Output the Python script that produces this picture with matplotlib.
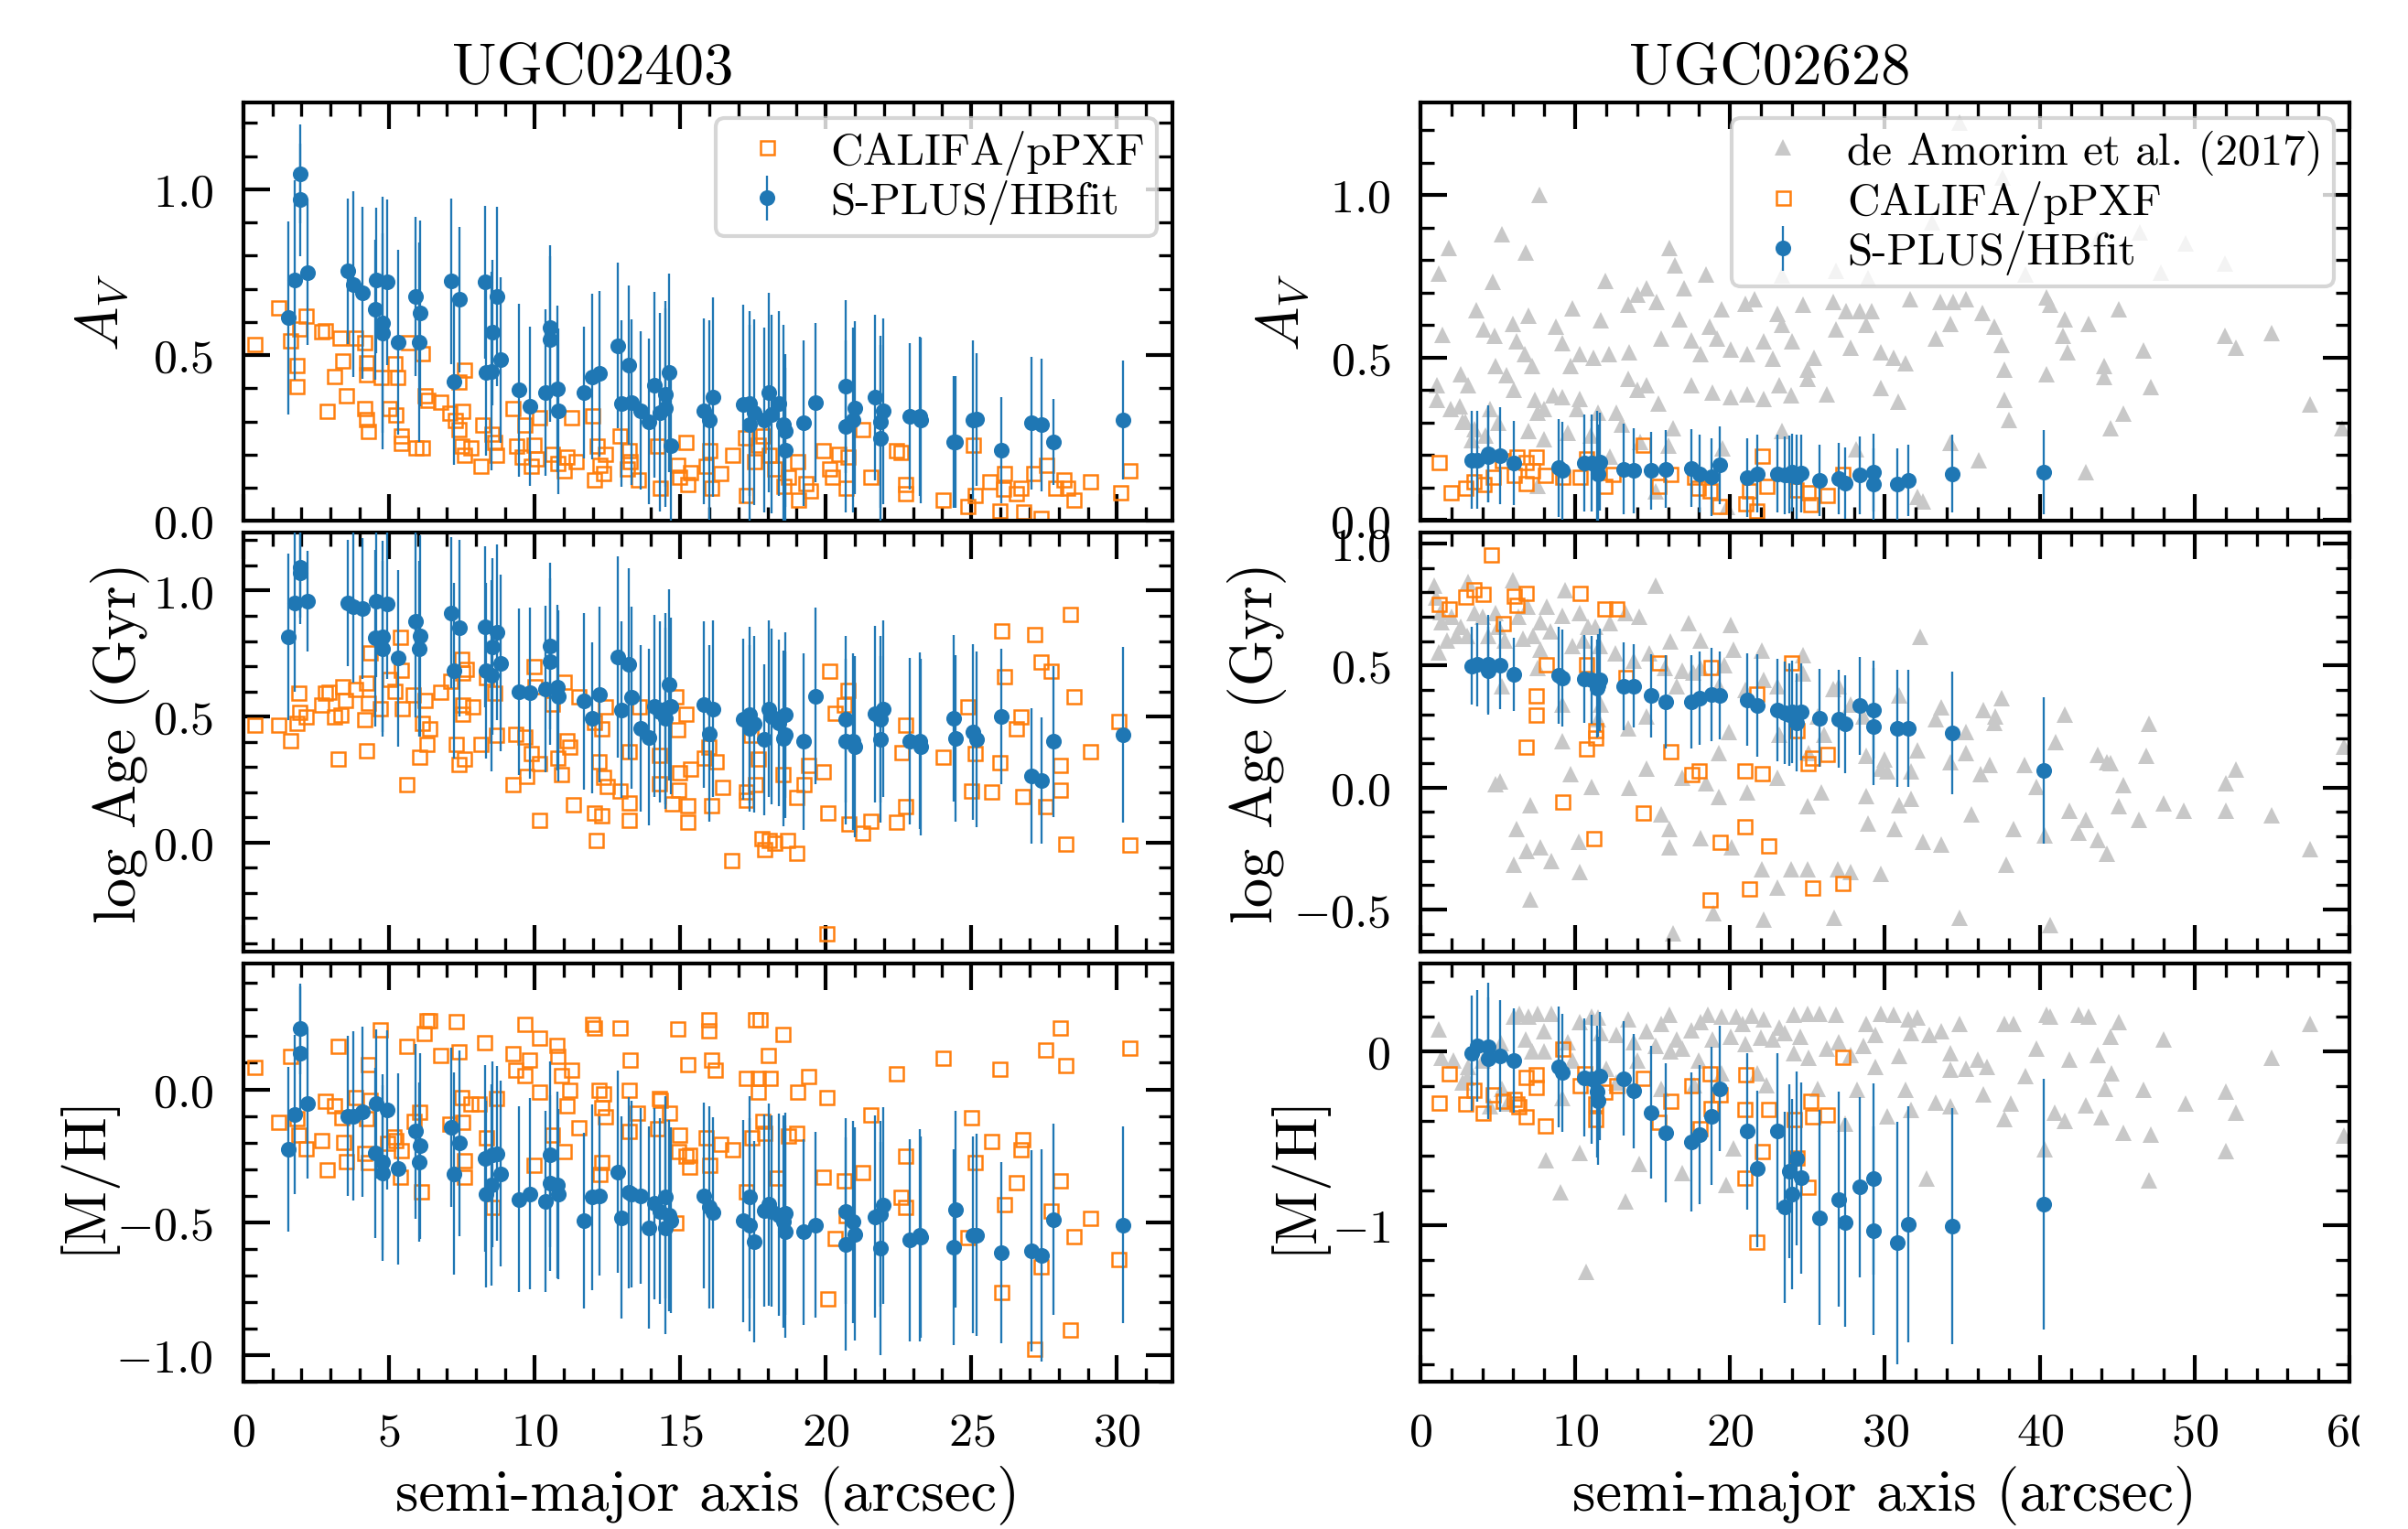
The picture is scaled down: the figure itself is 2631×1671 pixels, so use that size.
import numpy as np
import matplotlib
matplotlib.use('Agg')
import matplotlib.pyplot as plt
from matplotlib.ticker import MultipleLocator
from matplotlib.patches import Rectangle

plt.rcParams['font.family'] = 'serif'
plt.rcParams['font.serif'] = ['cmr10']
plt.rcParams['mathtext.fontset'] = 'cm'
plt.rcParams['axes.formatter.use_mathtext'] = True
plt.rcParams['axes.linewidth'] = 1.0

# ---- UGC02403: S-PLUS/HBfit, columns: sma, Av, Av_err, logAge, logAge_err, [M/H], [M/H]_err
splus_left = np.array([
    [1.55, 0.612, 0.29, 0.817, 0.33, -0.227, 0.31],
    [1.78, 0.727, 0.30, 0.950, 0.35, -0.095, 0.30],
    [1.95, 1.047, 0.15, 1.093, 0.20, 0.228, 0.17],
    [1.95, 0.969, 0.17, 1.069, 0.20, 0.136, 0.25],
    [2.20, 0.750, 0.22, 0.958, 0.20, -0.054, 0.28],
    [3.58, 0.753, 0.22, 0.950, 0.25, -0.100, 0.30],
    [3.79, 0.714, 0.28, 0.936, 0.30, -0.100, 0.32],
    [4.10, 0.688, 0.26, 0.930, 0.28, -0.083, 0.32],
    [4.54, 0.637, 0.21, 0.812, 0.35, -0.239, 0.32],
    [4.58, 0.726, 0.22, 0.958, 0.30, -0.054, 0.28],
    [4.79, 0.597, 0.38, 0.817, 0.38, -0.273, 0.33],
    [4.79, 0.566, 0.30, 0.769, 0.35, -0.314, 0.33],
    [4.95, 0.720, 0.25, 0.948, 0.30, -0.077, 0.30],
    [5.32, 0.539, 0.28, 0.732, 0.35, -0.299, 0.36],
    [5.92, 0.677, 0.24, 0.878, 0.38, -0.158, 0.33],
    [6.07, 0.626, 0.28, 0.821, 0.40, -0.213, 0.35],
    [6.03, 0.539, 0.30, 0.769, 0.35, -0.273, 0.30],
    [7.13, 0.723, 0.25, 0.912, 0.30, -0.144, 0.30],
    [7.23, 0.419, 0.25, 0.682, 0.35, -0.317, 0.38],
    [7.44, 0.668, 0.22, 0.851, 0.35, -0.202, 0.35],
    [8.31, 0.720, 0.23, 0.857, 0.32, -0.260, 0.35],
    [8.35, 0.447, 0.25, 0.682, 0.35, -0.394, 0.35],
    [8.51, 0.451, 0.30, 0.663, 0.38, -0.360, 0.38],
    [8.56, 0.568, 0.22, 0.778, 0.35, -0.245, 0.35],
    [8.72, 0.677, 0.27, 0.835, 0.35, -0.241, 0.33],
    [8.85, 0.485, 0.25, 0.712, 0.35, -0.317, 0.35],
    [9.47, 0.394, 0.26, 0.599, 0.33, -0.414, 0.35],
    [9.84, 0.345, 0.24, 0.594, 0.34, -0.394, 0.36],
    [10.38, 0.387, 0.25, 0.609, 0.33, -0.421, 0.34],
    [10.55, 0.582, 0.25, 0.781, 0.33, -0.245, 0.35],
    [10.55, 0.548, 0.25, 0.718, 0.33, -0.354, 0.33],
    [10.79, 0.398, 0.25, 0.615, 0.33, -0.360, 0.35],
    [10.83, 0.331, 0.25, 0.582, 0.34, -0.394, 0.32],
    [11.70, 0.387, 0.20, 0.561, 0.35, -0.495, 0.33],
    [11.99, 0.435, 0.25, 0.494, 0.30, -0.406, 0.35],
    [12.24, 0.444, 0.25, 0.587, 0.35, -0.400, 0.30],
    [12.87, 0.529, 0.25, 0.736, 0.40, -0.310, 0.38],
    [12.99, 0.354, 0.25, 0.527, 0.35, -0.483, 0.38],
    [13.24, 0.470, 0.24, 0.708, 0.38, -0.389, 0.36],
    [13.32, 0.357, 0.25, 0.575, 0.36, -0.394, 0.35],
    [13.65, 0.333, 0.24, 0.452, 0.33, -0.400, 0.33],
    [13.94, 0.299, 0.25, 0.418, 0.35, -0.521, 0.38],
    [14.11, 0.410, 0.28, 0.542, 0.36, -0.429, 0.36],
    [14.32, 0.327, 0.30, 0.518, 0.36, -0.458, 0.35],
    [14.48, 0.382, 0.28, 0.530, 0.38, -0.521, 0.40],
    [14.48, 0.341, 0.30, 0.494, 0.36, -0.406, 0.38],
    [14.63, 0.447, 0.30, 0.627, 0.38, -0.475, 0.36],
    [14.69, 0.226, 0.23, 0.542, 0.35, -0.493, 0.35],
    [15.81, 0.331, 0.28, 0.548, 0.33, -0.400, 0.35],
    [16.01, 0.304, 0.30, 0.433, 0.35, -0.444, 0.38],
    [16.14, 0.373, 0.30, 0.530, 0.35, -0.464, 0.36],
    [17.17, 0.352, 0.30, 0.488, 0.32, -0.495, 0.38],
    [17.38, 0.354, 0.28, 0.506, 0.35, -0.406, 0.38],
    [17.38, 0.290, 0.30, 0.454, 0.33, -0.510, 0.40],
    [17.55, 0.327, 0.28, 0.470, 0.35, -0.573, 0.38],
    [17.88, 0.304, 0.28, 0.409, 0.30, -0.456, 0.36],
    [18.04, 0.387, 0.30, 0.530, 0.35, -0.433, 0.38],
    [18.15, 0.322, 0.30, 0.500, 0.35, -0.458, 0.36],
    [18.40, 0.354, 0.28, 0.476, 0.33, -0.472, 0.38],
    [18.56, 0.290, 0.30, 0.413, 0.35, -0.498, 0.40],
    [18.60, 0.272, 0.23, 0.427, 0.33, -0.536, 0.40],
    [18.62, 0.212, 0.25, 0.506, 0.33, -0.467, 0.38],
    [19.25, 0.295, 0.25, 0.401, 0.35, -0.536, 0.35],
    [19.66, 0.357, 0.24, 0.582, 0.35, -0.510, 0.35],
    [20.70, 0.405, 0.26, 0.490, 0.33, -0.458, 0.35],
    [20.70, 0.285, 0.26, 0.401, 0.33, -0.582, 0.40],
    [20.94, 0.304, 0.28, 0.401, 0.35, -0.498, 0.38],
    [20.99, 0.341, 0.26, 0.379, 0.36, -0.544, 0.40],
    [21.69, 0.373, 0.25, 0.510, 0.35, -0.479, 0.38],
    [21.88, 0.299, 0.26, 0.490, 0.33, -0.469, 0.35],
    [21.88, 0.250, 0.28, 0.409, 0.33, -0.599, 0.40],
    [21.98, 0.331, 0.28, 0.530, 0.35, -0.437, 0.37],
    [22.89, 0.315, 0.22, 0.403, 0.33, -0.567, 0.38],
    [23.22, 0.315, 0.24, 0.403, 0.35, -0.550, 0.40],
    [23.27, 0.304, 0.25, 0.379, 0.35, -0.556, 0.38],
    [24.47, 0.238, 0.20, 0.413, 0.33, -0.452, 0.37],
    [24.40, 0.238, 0.20, 0.494, 0.33, -0.594, 0.37],
    [25.05, 0.304, 0.24, 0.439, 0.35, -0.548, 0.37],
    [25.17, 0.306, 0.20, 0.409, 0.35, -0.548, 0.38],
    [26.02, 0.212, 0.16, 0.500, 0.27, -0.614, 0.34],
    [27.08, 0.295, 0.20, 0.264, 0.27, -0.608, 0.38],
    [27.41, 0.290, 0.20, 0.246, 0.25, -0.625, 0.40],
    [27.82, 0.239, 0.13, 0.401, 0.30, -0.490, 0.36],
    [30.21, 0.304, 0.18, 0.427, 0.35, -0.510, 0.37],
])

# ---- UGC02403: CALIFA/pPXF (sma, value)
califa_left_av = np.array([
    (0.39, 0.532), (1.20, 0.643), (1.62, 0.545), (1.82, 0.470), (1.82, 0.407), (1.93, 0.580),
    (2.15, 0.619), (2.67, 0.571), (2.82, 0.575), (3.13, 0.437), (3.30, 0.554), (3.40, 0.483),
    (3.54, 0.378), (2.88, 0.331), (3.85, 0.554), (4.16, 0.539), (4.23, 0.479), (4.23, 0.442),
    (4.16, 0.341), (4.23, 0.308), (4.27, 0.272), (4.72, 0.433), (4.99, 0.341), (5.20, 0.474),
    (5.30, 0.433), (5.24, 0.320), (5.41, 0.258), (5.41, 0.235), (5.66, 0.539), (5.92, 0.221),
    (6.13, 0.506), (6.13, 0.221), (6.24, 0.378), (6.34, 0.364), (6.75, 0.359), (7.07, 0.327),
    (7.27, 0.304), (7.38, 0.419), (7.58, 0.456), (7.52, 0.331), (7.38, 0.276), (7.48, 0.226),
    (7.58, 0.198), (7.79, 0.221), (8.14, 0.166), (8.20, 0.290), (8.51, 0.262), (8.62, 0.239),
    (8.68, 0.198), (9.24, 0.341), (9.38, 0.226), (9.55, 0.193), (9.65, 0.290), (9.86, 0.166),
    (9.96, 0.230), (10.07, 0.189), (10.17, 0.313), (10.59, 0.203), (10.79, 0.175), (11.00, 0.152),
    (11.10, 0.193), (11.27, 0.313), (11.41, 0.180), (11.99, 0.318), (12.04, 0.124), (12.14, 0.226),
    (12.24, 0.170), (12.35, 0.143), (12.41, 0.203), (12.93, 0.258), (13.24, 0.212), (13.28, 0.180),
    (13.18, 0.157), (13.55, 0.124), (14.21, 0.226), (14.32, 0.101), (14.90, 0.170), (14.98, 0.134),
    (15.19, 0.239), (15.25, 0.110), (15.35, 0.147), (15.87, 0.166), (16.01, 0.212), (16.08, 0.101),
    (16.39, 0.143), (16.80, 0.198), (17.22, 0.253), (17.26, 0.078), (17.53, 0.180), (17.67, 0.230),
    (17.84, 0.258), (18.04, 0.198), (18.25, 0.157), (18.56, 0.106), (18.71, 0.134), (19.02, 0.180),
    (19.04, 0.064), (19.29, 0.115), (19.45, 0.092), (19.91, 0.212), (20.12, 0.157), (20.22, 0.134),
    (20.43, 0.203), (20.74, 0.193), (20.70, 0.101), (21.26, 0.276), (21.52, 0.134), (22.40, 0.212),
    (22.56, 0.207), (22.73, 0.110), (22.73, 0.083), (24.01, 0.064), (24.88, 0.046), (25.05, 0.230),
    (25.13, 0.078), (25.61, 0.120), (25.96, 0.032), (26.12, 0.143), (26.08, 0.097), (26.54, 0.083),
    (26.70, 0.101), (26.79, 0.028), (27.12, 0.143), (27.37, 0.009), (27.57, 0.170), (27.88, 0.101),
    (28.15, 0.124), (28.30, 0.101), (28.51, 0.064), (29.07, 0.120), (30.10, 0.085), (30.43, 0.152),
])

califa_left_age = np.array([
    (0.39, 0.466), (1.20, 0.466), (1.62, 0.406), (1.82, 0.476), (1.89, 0.594), (1.93, 0.518),
    (2.15, 0.500), (2.67, 0.548), (2.82, 0.594), (2.92, 0.599), (3.13, 0.500), (3.23, 0.333),
    (3.34, 0.506), (3.40, 0.621), (3.50, 0.567), (3.85, 0.609), (4.16, 0.488), (4.21, 0.633),
    (4.27, 0.554), (4.33, 0.754), (4.23, 0.367), (4.68, 0.534), (4.99, 0.648), (5.20, 0.603),
    (5.37, 0.817), (5.41, 0.684), (5.45, 0.534), (5.61, 0.231), (5.82, 0.587), (6.03, 0.340),
    (6.13, 0.476), (6.24, 0.567), (6.28, 0.393), (6.40, 0.452), (6.75, 0.599), (7.11, 0.643),
    (7.31, 0.393), (7.38, 0.312), (7.48, 0.728), (7.52, 0.676), (7.52, 0.548), (7.52, 0.510),
    (7.58, 0.333), (7.64, 0.688), (7.85, 0.539), (8.14, 0.393), (8.35, 0.655), (8.62, 0.594),
    (8.68, 0.427), (9.24, 0.231), (9.34, 0.430), (9.65, 0.421), (9.72, 0.264), (9.86, 0.355),
    (9.96, 0.700), (10.01, 0.621), (10.17, 0.091), (10.17, 0.316), (10.59, 0.551), (10.79, 0.337),
    (10.90, 0.272), (11.00, 0.639), (11.10, 0.406), (11.21, 0.379), (11.31, 0.151), (11.52, 0.582),
    (12.04, 0.119), (12.04, 0.478), (12.10, 0.010), (12.20, 0.324), (12.28, 0.107), (12.35, 0.260),
    (12.41, 0.539), (12.31, 0.454), (12.49, 0.224), (12.91, 0.207), (13.24, 0.159), (13.24, 0.091),
    (13.24, 0.361), (13.59, 0.539), (14.27, 0.236), (14.27, 0.349), (14.73, 0.155), (14.83, 0.582),
    (14.90, 0.449), (14.98, 0.280), (14.94, 0.209), (15.19, 0.510), (15.25, 0.149), (15.25, 0.082),
    (15.35, 0.294), (15.81, 0.337), (15.97, 0.381), (16.08, 0.149), (16.22, 0.324), (16.43, 0.222),
    (16.76, -0.071), (17.26, 0.203), (17.26, 0.171), (17.42, 0.427), (17.59, 0.231), (17.67, 0.333),
    (17.80, 0.016), (17.88, -0.027), (18.04, 0.010), (18.25, -0.002), (18.52, 0.272), (18.67, 0.010),
    (18.98, -0.042), (18.98, 0.179), (19.23, 0.231), (19.39, 0.306), (19.91, 0.282), (20.01, -0.362),
    (20.07, 0.119), (20.12, 0.682), (20.32, 0.515), (20.63, 0.548), (20.74, 0.607), (20.78, 0.074),
    (21.26, 0.038), (21.52, 0.086), (22.40, 0.082), (22.60, 0.357), (22.73, 0.466), (22.73, 0.146),
    (24.01, 0.340), (24.88, 0.542), (24.98, 0.207), (25.13, 0.355), (25.67, 0.203), (25.96, 0.318),
    (26.02, 0.841), (26.12, 0.660), (26.54, 0.454), (26.70, 0.502), (26.75, 0.185), (27.16, 0.827),
    (27.37, 0.718), (27.53, 0.143), (27.74, 0.682), (28.03, 0.306), (28.03, 0.209), (28.24, -0.006),
    (28.40, 0.906), (28.51, 0.582), (29.07, 0.364), (30.06, 0.482), (30.43, -0.008),
])

califa_left_mh = np.array([
    (0.39, 0.084), (1.20, -0.123), (1.62, 0.125), (1.82, -0.110), (1.89, -0.170), (2.15, -0.221),
    (2.67, -0.190), (2.88, -0.302), (2.82, -0.043), (3.13, -0.060), (3.23, 0.165), (3.38, -0.106),
    (3.44, -0.198), (3.54, -0.271), (3.85, -0.029), (4.16, -0.239), (4.21, -0.110), (4.27, 0.096),
    (4.27, -0.273), (4.33, -0.040), (4.68, 0.225), (4.95, -0.202), (5.16, -0.179), (5.24, -0.190),
    (5.37, -0.329), (5.41, -0.230), (5.61, 0.165), (5.86, -0.118), (6.03, -0.083), (6.09, -0.383),
    (6.19, 0.213), (6.28, 0.260), (6.40, 0.260), (6.75, 0.130), (7.07, -0.129), (7.31, 0.257),
    (7.38, 0.142), (7.48, -0.029), (7.52, -0.123), (7.58, -0.268), (7.58, -0.329), (7.79, -0.052),
    (8.10, -0.052), (8.26, 0.176), (8.35, -0.181), (8.56, -0.444), (8.68, -0.031), (9.24, 0.136),
    (9.34, 0.073), (9.65, 0.246), (9.65, 0.055), (9.82, 0.113), (9.96, -0.285), (10.17, 0.194),
    (10.17, -0.008), (10.59, -0.170), (10.75, 0.167), (10.79, 0.125), (10.90, 0.055), (11.00, -0.233),
    (11.10, -0.060), (11.21, -0.002), (11.27, 0.073), (11.52, -0.144), (11.99, 0.246), (12.04, 0.234),
    (12.20, -0.002), (12.24, -0.317), (12.28, -0.273), (12.31, -0.066), (12.35, -0.014), (12.41, -0.100),
    (12.91, 0.234), (13.24, -0.002), (13.28, 0.113), (13.24, -0.158), (13.53, -0.089), (14.21, -0.146),
    (14.27, -0.031), (14.32, -0.040), (14.63, -0.089), (14.83, -0.502), (14.90, 0.228), (14.94, -0.233),
    (14.98, -0.170), (15.19, -0.250), (15.25, 0.093), (15.31, -0.291), (15.31, -0.245), (15.87, -0.181),
    (15.97, 0.263), (15.97, 0.223), (16.08, 0.113), (16.18, 0.073), (16.01, -0.285), (16.39, -0.204),
    (16.80, -0.227), (17.26, 0.044), (17.26, -0.383), (17.46, -0.181), (17.59, 0.263), (17.73, 0.263),
    (17.67, 0.044), (17.67, -0.008), (17.84, -0.118), (17.88, -0.164), (18.00, 0.130), (18.08, 0.044),
    (18.31, -0.331), (18.52, 0.209), (18.71, -0.175), (18.98, -0.164), (19.02, -0.008), (19.39, 0.050),
    (19.91, -0.329), (20.01, -0.029), (20.07, -0.787), (20.32, -0.559), (20.63, -0.343), (20.70, -0.472),
    (21.26, -0.310), (21.52, -0.095), (22.40, 0.061), (22.56, -0.406), (22.73, -0.248), (22.73, -0.441),
    (24.01, 0.119), (24.88, -0.556), (24.98, -0.106), (25.13, -0.273), (25.67, -0.195), (25.96, 0.078),
    (26.02, -0.764), (26.12, -0.433), (26.54, -0.348), (26.70, -0.227), (26.75, -0.187), (27.16, -0.975),
    (27.37, -0.666), (27.53, 0.151), (27.74, -0.456), (28.03, 0.232), (28.03, -0.343), (28.24, 0.090),
    (28.40, -0.905), (28.51, -0.552), (29.07, -0.483), (30.06, -0.637), (30.43, 0.156),
])

# ---- UGC02628: S-PLUS/HBfit, same columns as splus_left
splus_right = np.array([
    [3.30, 0.185, 0.15, 0.498, 0.16, -0.009, 0.33],
    [3.69, 0.185, 0.15, 0.504, 0.17, 0.032, 0.32],
    [4.39, 0.204, 0.15, 0.506, 0.20, 0.026, 0.37],
    [4.39, 0.195, 0.14, 0.480, 0.18, -0.040, 0.35],
    [5.17, 0.199, 0.15, 0.501, 0.18, -0.026, 0.32],
    [6.02, 0.176, 0.13, 0.464, 0.15, -0.053, 0.30],
    [8.94, 0.161, 0.15, 0.460, 0.20, -0.088, 0.35],
    [9.14, 0.152, 0.15, 0.448, 0.20, -0.120, 0.34],
    [10.61, 0.176, 0.15, 0.444, 0.18, -0.150, 0.34],
    [11.08, 0.176, 0.15, 0.441, 0.18, -0.159, 0.37],
    [11.39, 0.166, 0.17, 0.406, 0.20, -0.229, 0.38],
    [11.59, 0.180, 0.15, 0.441, 0.21, -0.141, 0.37],
    [11.47, 0.143, 0.15, 0.419, 0.21, -0.282, 0.37],
    [13.10, 0.157, 0.14, 0.416, 0.18, -0.155, 0.33],
    [13.80, 0.152, 0.13, 0.416, 0.17, -0.226, 0.33],
    [14.89, 0.152, 0.12, 0.376, 0.17, -0.349, 0.38],
    [15.83, 0.157, 0.12, 0.351, 0.19, -0.467, 0.40],
    [17.50, 0.160, 0.12, 0.351, 0.19, -0.520, 0.40],
    [18.01, 0.143, 0.12, 0.366, 0.19, -0.476, 0.40],
    [18.79, 0.133, 0.12, 0.381, 0.19, -0.370, 0.40],
    [19.33, 0.169, 0.12, 0.376, 0.18, -0.212, 0.36],
    [21.08, 0.131, 0.12, 0.360, 0.19, -0.459, 0.45],
    [21.78, 0.143, 0.12, 0.335, 0.21, -0.674, 0.45],
    [23.07, 0.143, 0.12, 0.316, 0.21, -0.459, 0.45],
    [23.53, 0.138, 0.12, 0.306, 0.21, -0.896, 0.55],
    [23.83, 0.140, 0.12, 0.300, 0.21, -0.688, 0.50],
    [24.00, 0.147, 0.12, 0.310, 0.21, -0.820, 0.55],
    [24.31, 0.133, 0.13, 0.266, 0.20, -0.617, 0.50],
    [24.62, 0.144, 0.12, 0.310, 0.20, -0.727, 0.55],
    [25.79, 0.122, 0.11, 0.285, 0.20, -0.956, 0.62],
    [27.04, 0.128, 0.11, 0.281, 0.20, -0.850, 0.62],
    [27.42, 0.114, 0.11, 0.260, 0.20, -0.984, 0.60],
    [28.40, 0.138, 0.12, 0.335, 0.20, -0.780, 0.52],
    [29.29, 0.147, 0.12, 0.319, 0.20, -0.732, 0.55],
    [29.29, 0.112, 0.11, 0.251, 0.24, -1.032, 0.60],
    [30.81, 0.110, 0.11, 0.241, 0.24, -1.102, 0.70],
    [31.51, 0.122, 0.11, 0.241, 0.24, -0.996, 0.68],
    [34.35, 0.143, 0.12, 0.223, 0.25, -1.005, 0.68],
    [40.26, 0.147, 0.13, 0.069, 0.30, -0.878, 0.72],
])

califa_right_av = np.array([
    (1.16, 0.180), (1.94, 0.086), (2.91, 0.100), (3.42, 0.119), (4.08, 0.110), (4.66, 0.135),
    (5.25, 0.185), (6.02, 0.138), (6.22, 0.195), (6.80, 0.180), (6.80, 0.114), (7.19, 0.152),
    (7.46, 0.195), (8.05, 0.138), (9.14, 0.133), (10.30, 0.133), (10.69, 0.190), (11.86, 0.105),
    (12.44, 0.143), (14.39, 0.232), (15.36, 0.105), (16.14, 0.143), (17.70, 0.133), (17.89, 0.100),
    (18.67, 0.091), (19.25, 0.043), (21.00, 0.053), (21.20, 0.091), (21.67, 0.029), (22.05, 0.199),
    (22.37, 0.105), (24.23, 0.095), (25.01, 0.086), (25.17, 0.048), (26.26, 0.076), (27.23, 0.143),
])

califa_right_age = np.array([
    (1.16, 0.751), (1.82, 0.735), (2.91, 0.781), (3.42, 0.814), (4.00, 0.794), (4.58, 0.956),
    (5.32, 0.673), (6.02, 0.785), (6.22, 0.748), (6.80, 0.798), (7.46, 0.379), (7.46, 0.298),
    (6.80, 0.166), (8.12, 0.506), (9.14, -0.059), (10.30, 0.798), (10.69, 0.504), (10.69, 0.160),
    (11.28, 0.235), (11.28, 0.204), (11.20, -0.209), (11.86, 0.735), (12.64, 0.735), (13.22, 0.454),
    (14.39, -0.102), (15.36, 0.514), (16.14, 0.148), (17.50, 0.054), (17.97, 0.069), (18.67, -0.459),
    (18.75, 0.494), (19.33, -0.221), (20.93, 0.069), (20.93, -0.159), (21.20, -0.415), (21.67, 0.385),
    (22.05, 0.060), (22.48, -0.236), (23.92, 0.514), (24.31, 0.235), (25.01, 0.098), (25.29, 0.123),
    (25.29, -0.409), (26.26, 0.139), (27.23, -0.390),
])

califa_right_mh = np.array([
    (1.16, -0.291), (1.82, -0.123), (2.91, -0.300), (3.42, -0.220), (4.00, -0.353), (4.66, -0.247),
    (5.32, -0.282), (6.02, -0.273), (6.22, -0.300), (6.30, -0.317), (6.80, -0.145), (6.80, -0.370),
    (7.46, -0.132), (7.46, -0.203), (8.05, -0.423), (9.14, 0.018), (10.30, -0.194), (10.61, -0.123),
    (11.28, -0.300), (11.28, -0.388), (11.86, -0.229), (12.64, -0.194), (14.39, -0.150), (15.36, -0.406),
    (16.14, -0.282), (17.50, -0.194), (18.01, -0.441), (18.67, -0.123), (18.75, -0.326), (19.33, -0.247),
    (21.00, -0.132), (20.93, -0.332), (20.93, -0.723), (21.70, -1.093), (22.05, -0.573), (22.48, -0.332),
    (24.12, -0.388), (24.31, -0.608), (25.01, -0.776), (25.17, -0.282), (25.29, -0.370), (26.26, -0.362),
    (27.23, -0.032),
])

# ---- UGC02628: de Amorim et al. (2017)
amorim_av = np.array([
    (1.16, 0.758), (1.82, 0.837), (1.43, 0.569), (1.04, 0.416), (2.60, 0.449), (3.10, 0.416),
    (3.61, 0.645), (4.08, 0.586), (4.66, 0.733), (5.25, 0.879), (4.78, 0.568), (5.95, 0.605),
    (6.22, 0.549), (6.80, 0.822), (7.00, 0.629), (6.72, 0.511), (7.19, 0.473), (7.70, 1.002),
    (8.75, 0.596), (9.14, 0.544), (9.84, 0.653), (10.30, 0.511), (11.16, 0.501), (11.66, 0.615),
    (11.94, 0.737), (12.17, 0.511), (13.42, 0.662), (13.49, 0.516), (14.00, 0.695), (14.58, 0.714),
    (15.28, 0.671), (15.56, 0.558), (16.06, 0.837), (16.45, 0.785), (16.72, 0.619), (17.00, 0.714),
    (17.50, 0.553), (18.09, 0.511), (18.67, 0.596), (19.14, 0.558), (19.45, 0.648), (20.03, 0.525),
    (21.00, 0.667), (21.12, 0.511), (21.59, 0.681), (22.17, 0.549), (22.75, 0.497), (23.07, 0.634),
    (23.34, 0.601), (24.00, 0.549), (24.70, 0.662), (25.01, 0.464), (25.40, 0.501), (26.65, 0.671),
    (26.84, 0.586), (27.50, 0.643), (27.81, 0.530), (28.40, 0.643), (28.79, 0.601), (29.17, 0.643),
    (29.76, 0.516), (30.54, 0.501), (31.32, 0.483), (31.63, 0.681), (33.26, 0.558), (33.57, 0.671),
    (34.23, 0.605), (34.43, 0.671), (35.21, 0.681), (36.30, 0.638), (37.07, 0.596), (37.54, 0.539),
    (37.74, 0.464), (40.46, 0.686), (40.66, 0.662), (41.63, 0.619), (41.51, 0.568), (41.82, 0.516),
    (43.18, 0.605), (44.16, 0.473), (45.13, 0.648), (46.68, 0.522), (47.19, 0.409), (51.94, 0.568),
    (52.64, 0.530), (54.97, 0.577), (57.46, 0.355), (59.53, 0.284),
    (37.62, 1.054), (33.07, 0.917), (46.49, 0.884), (49.41, 0.851), (43.77, 0.865), (51.94, 0.789),
    (47.85, 0.761), (34.82, 1.224), (23.34, 0.752), (26.84, 0.766), (28.90, 0.745), (39.10, 0.756),
    (18.47, 0.756),
    (1.04, 0.369), (1.94, 0.341), (2.91, 0.303), (3.30, 0.246), (4.47, 0.341), (6.02, 0.402),
    (7.38, 0.369), (7.97, 0.341), (8.55, 0.383), (9.14, 0.379), (10.11, 0.341), (11.47, 0.331),
    (12.64, 0.331), (13.42, 0.435), (14.00, 0.402), (14.58, 0.416), (15.36, 0.360), (16.33, 0.284),
    (17.50, 0.416), (18.86, 0.393), (20.03, 0.379), (21.12, 0.388), (22.17, 0.374), (23.15, 0.416),
    (23.34, 0.275), (23.92, 0.383), (25.01, 0.435), (26.26, 0.388), (28.12, 0.218), (29.76, 0.407),
    (30.85, 0.364), (32.48, 0.058), (34.23, 0.237), (36.06, 0.185), (37.74, 0.369), (38.01, 0.308),
    (42.99, 0.147), (44.55, 0.284), (45.40, 0.327), (40.46, 0.449), (44.16, 0.440), (9.72, 0.473),
    (4.86, 0.473), (5.56, 0.445), (2.72, 0.303), (2.52, 0.350), (13.03, 0.294), (12.25, 0.195),
    (7.58, 0.105), (32.09, 0.072), (6.99, 0.275), (7.58, 0.331), (10.30, 0.374),
    (3.50, 0.280), (4.20, 0.260), (5.00, 0.300), (8.00, 0.250), (9.50, 0.270), (11.00, 0.260),
    (14.20, 0.240), (16.00, 0.230), (19.50, 0.220), (15.20, 0.090), (19.80, 0.040),
])

amorim_age = np.array([
    (0.89, 0.829), (1.35, 0.679), (1.16, 0.554), (1.74, 0.601), (2.60, 0.660), (3.10, 0.841),
    (3.49, 0.716), (4.86, 0.716), (5.95, 0.848), (5.44, 0.604), (6.61, 0.610), (7.77, 0.679),
    (7.77, 0.566), (8.16, 0.741), (9.14, 0.704), (9.33, 0.810), (10.30, 0.716), (10.50, 0.604),
    (11.28, 0.660), (12.25, 0.673), (13.22, 0.716), (14.11, 0.698), (15.17, 0.829), (16.14, 0.598),
    (16.92, 0.479), (17.31, 0.673), (18.09, 0.604), (18.09, 0.491), (19.25, 0.416), (20.03, 0.666),
    (20.22, 0.566), (21.00, 0.398), (22.05, 0.560), (22.17, 0.441), (23.07, 0.416), (24.70, 0.541),
    (25.67, 0.291), (26.65, 0.404), (27.81, 0.341), (28.59, 0.291), (29.76, 0.079), (30.93, 0.379),
    (32.29, 0.616), (33.26, 0.279), (34.23, 0.104), (35.21, 0.141), (36.38, 0.316), (37.07, 0.266),
    (37.54, 0.366), (39.02, 0.091), (41.04, 0.185), (41.63, 0.298), (43.77, 0.135), (44.55, 0.098),
    (47.07, 0.260), (46.88, 0.129), (59.64, 0.166), (39.80, 0.004),
    (4.86, 0.014), (5.17, 0.023), (7.11, -0.071), (6.22, -0.169), (6.02, -0.315), (6.88, -0.259),
    (7.77, -0.246), (8.44, -0.303), (7.11, -0.459), (9.72, 0.054), (10.23, -0.221), (10.30, -0.346),
    (11.08, 0.004), (13.49, -0.002), (14.58, 0.079), (15.56, -0.109), (16.06, -0.171), (16.06, -0.246),
    (16.33, -0.596), (18.09, -0.209), (18.94, -0.515), (19.25, -0.040), (20.11, -0.246), (21.12, -0.021),
    (22.05, -0.334), (22.17, -0.540), (23.07, -0.409), (23.92, -0.334), (25.01, -0.078), (25.01, -0.334),
    (25.87, -0.021), (26.72, -0.534), (26.96, -0.334), (27.81, -0.346), (28.90, -0.146), (29.76, -0.352),
    (30.61, -0.171), (31.70, -0.046), (32.48, -0.221), (33.65, -0.234), (34.82, -0.534), (35.60, -0.109),
    (36.18, 0.054), (37.85, -0.315), (38.32, -0.171), (40.34, -0.196), (40.65, -0.565), (41.90, -0.096),
    (42.52, -0.184), (42.99, -0.134), (43.77, -0.215), (44.35, -0.271), (45.13, -0.078), (45.40, 0.010),
    (46.41, -0.134), (47.97, -0.065), (49.29, -0.096), (52.02, -0.096), (52.02, 0.016), (52.64, 0.073),
    (54.97, -0.115), (57.46, -0.253), (44.35, 0.104),
    (5.25, 0.416), (7.57, 0.491), (9.14, 0.191), (9.14, 0.341), (11.67, 0.341), (11.47, 0.279),
    (13.42, 0.241), (14.58, 0.291), (16.53, 0.416), (16.92, 0.041), (18.47, 0.016), (19.25, 0.141),
    (19.95, 0.229), (23.07, 0.041), (23.15, 0.216), (24.70, 0.466), (25.09, 0.141), (26.06, 0.216),
    (27.04, 0.416), (28.79, 0.129), (28.79, -0.034), (29.95, 0.116), (30.15, 0.066), (30.93, -0.071),
    (31.70, 0.066), (32.09, 0.154), (33.65, 0.329), (35.21, 0.229), (36.76, 0.091), (37.15, 0.291),
    (1.00, 0.780), (1.30, 0.720), (2.00, 0.700), (2.30, 0.620), (3.00, 0.620), (4.00, 0.700),
    (4.40, 0.620), (5.00, 0.660), (6.30, 0.700), (6.90, 0.740), (7.30, 0.620), (8.40, 0.640),
    (9.80, 0.580), (10.80, 0.660), (11.60, 0.580), (12.60, 0.550), (13.80, 0.520), (14.80, 0.550),
    (15.80, 0.490), (17.60, 0.470), (19.60, 0.500),
])

amorim_mh = np.array([
    (1.16, 0.127), (1.35, -0.035), (6.02, 0.203), (6.41, 0.220), (7.00, 0.203), (7.58, 0.220),
    (8.44, 0.220), (7.97, 0.000), (7.19, 0.000), (10.30, 0.168), (11.08, 0.203), (11.47, 0.194),
    (13.42, 0.185), (14.58, 0.120), (15.56, 0.159), (16.06, 0.212), (16.53, 0.071), (16.92, 0.018),
    (18.09, 0.168), (18.55, 0.212), (19.45, 0.203), (20.03, 0.088), (20.42, 0.203), (21.00, 0.044),
    (21.39, 0.208), (21.98, 0.079), (22.17, 0.185), (23.15, 0.141), (24.12, 0.212), (25.01, 0.215),
    (25.79, 0.215), (26.84, 0.212), (27.04, 0.053), (27.81, -0.018), (28.79, 0.159), (29.37, 0.097),
    (29.76, 0.220), (30.54, 0.212), (30.93, -0.026), (31.51, 0.185), (32.09, 0.194), (32.87, 0.097),
    (33.65, 0.115), (34.23, -0.009), (34.23, -0.106), (34.82, 0.159), (35.21, -0.097), (35.98, -0.044),
    (36.57, -0.088), (37.74, 0.159), (38.32, 0.159), (39.10, -0.141), (39.80, 0.018), (40.46, 0.212),
    (40.66, 0.203), (41.90, -0.044), (42.52, 0.212), (43.18, 0.203), (43.77, -0.018), (44.55, 0.088),
    (44.62, -0.123), (45.13, 0.168), (44.23, -0.212), (46.68, -0.220), (47.19, -0.476), (47.97, 0.071),
    (49.41, -0.300), (52.02, -0.229), (52.64, -0.353), (52.02, -0.573), (54.97, -0.035), (57.46, 0.159),
    (59.64, -0.485), (45.40, -0.467), (47.07, -0.741), (40.34, -0.564), (40.96, -0.353), (41.63, -0.397),
    (42.99, -0.309), (43.96, -0.379), (37.74, -0.388), (38.12, -0.300), (36.38, -0.247), (33.26, -0.291),
    (34.23, -0.317), (32.68, -0.732), (31.70, -0.335), (30.15, -0.370), (31.32, -0.220), (28.20, -0.220),
    (27.42, -0.414), (25.67, -0.212), (22.37, -0.194), (21.78, -0.123), (20.23, -0.556), (19.72, -0.767),
    (16.92, -0.697), (14.12, -0.644), (13.22, -0.864), (10.69, -1.270), (10.30, -0.582), (9.02, -0.811),
    (8.09, -0.626), (5.63, -0.300), (4.47, -0.317), (2.72, -0.176), (2.13, -0.053), (3.10, -0.088),
    (5.25, -0.212), (9.14, -0.265), (12.64, -0.176), (15.56, -0.212), (17.70, -0.194), (19.45, -0.123),
    (24.12, -0.009), (25.09, -0.035), (29.37, -0.088),
    (6.80, 0.071), (7.97, 0.115), (9.53, 0.053), (11.66, 0.106), (12.64, 0.097), (13.80, 0.053),
    (15.17, 0.035), (16.14, 0.000), (17.50, 0.123), (18.86, 0.071), (20.81, 0.159), (22.75, 0.071),
    (23.53, 0.106), (24.51, 0.088), (26.26, 0.018), (28.59, 0.035), (31.70, 0.106), (5.20, 0.050),
    (4.00, -0.050), (3.00, -0.150), (9.80, -0.050), (12.00, -0.100), (14.00, -0.050), (18.00, -0.050),
])

titles = ['UGC02403', 'UGC02628']
ylabels = [r'$A_V$', 'log Age (Gyr)', '[M/H]']
xlabel = 'semi-major axis (arcsec)'

blue = '#1f77b4'
orange = '#ff7f0e'
grey = '#c8c8c8'

fig, axs = plt.subplots(3, 2, figsize=(8.77, 5.5733), dpi=300)
fig.subplots_adjust(left=0.101, right=0.9757, bottom=0.0963, top=0.9324,
                    hspace=0.029, wspace=0.267)

califa_sets = [[califa_left_av, califa_left_age, califa_left_mh],
               [califa_right_av, califa_right_age, califa_right_mh]]
amorim_sets = [amorim_av, amorim_age, amorim_mh]
splus_sets = [splus_left, splus_right]

xlims = [(0, 31.9), (0, 60)]
xmaj = [5, 10]
xmin = [1, 2]
ylims = [[(0, 1.262), (-0.432, 1.229), (-1.10, 0.474)],
         [(-0.002, 1.285), (-0.671, 1.043), (-1.90, 0.508)]]
ymaj = [[0.5, 0.5, 0.5], [0.5, 0.5, 1.0]]
ymin = [[0.1, 0.1, 0.1], [0.1, 0.1, 0.2]]
# per-panel label padding to sit the y labels where the original has them
lpads = [[5.5, 0.6, 0.6], [4.5, 1.8, 1.8]]

for col in range(2):
    sp = splus_sets[col]
    for row in range(3):
        ax = axs[row, col]
        if col == 1:
            am = amorim_sets[row]
            ax.plot(am[:, 0], am[:, 1], '^', color=grey, ms=4.2, mew=0,
                    label='de Amorim et al. (2017)', zorder=1)
        cs = califa_sets[col][row]
        ax.plot(cs[:, 0], cs[:, 1], 's', mfc='none', mec=orange, ms=3.6, mew=0.6,
                label='CALIFA/pPXF', zorder=2)
        ax.errorbar(sp[:, 0], sp[:, 1 + 2 * row], yerr=sp[:, 2 + 2 * row], fmt='o',
                    color=blue, ms=3.1, elinewidth=0.55, capsize=0,
                    label='S-PLUS/HBfit', zorder=3)

        ax.set_xlim(*xlims[col])
        ax.set_ylim(*ylims[col][row])
        ax.xaxis.set_major_locator(MultipleLocator(xmaj[col]))
        ax.xaxis.set_minor_locator(MultipleLocator(xmin[col]))
        ax.yaxis.set_major_locator(MultipleLocator(ymaj[col][row]))
        ax.yaxis.set_minor_locator(MultipleLocator(ymin[col][row]))
        ax.tick_params(which='both', direction='in', top=True, right=True,
                       labelsize=12.5, pad=7.8)
        ax.tick_params(which='major', length=7, width=1.0)
        ax.tick_params(which='minor', length=3.5, width=0.8)
        ax.set_ylabel(ylabels[row], fontsize=15.5, labelpad=lpads[col][row])
        if row < 2:
            ax.tick_params(labelbottom=False)
        else:
            ax.set_xlabel(xlabel, fontsize=15.5, labelpad=3)
        if row == 0:
            ax.set_title(titles[col], fontsize=15.5, pad=5, x=0.376)
            leg = ax.legend(loc='upper right', fontsize=11.8, handletextpad=0.55,
                            handlelength=1.75, borderpad=0.25, labelspacing=0.12,
                            borderaxespad=0.35)
            leg.get_frame().set_linewidth(1.0)

# the original image is cut off just right of the last panel
fig.add_artist(Rectangle((2578 / 2631, 0), 1, 1, transform=fig.transFigure,
                         facecolor='white', edgecolor='none', zorder=10))

fig.savefig('out.png', dpi=300)
